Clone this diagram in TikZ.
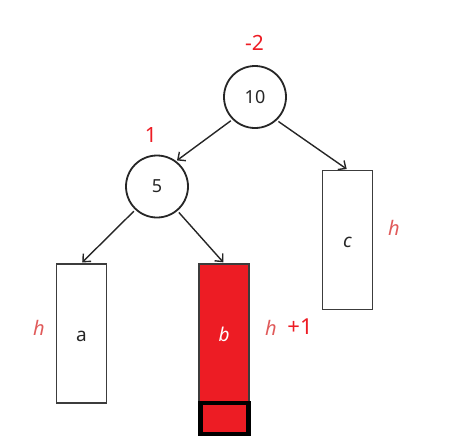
\documentclass[tikz,border=0pt]{standalone}
\usepackage{fontspec}
\setmainfont{Noto Sans}
\usetikzlibrary{arrows.meta}
\usetikzlibrary{positioning}
\definecolor{avink}{HTML}{262626}
\definecolor{avedge}{HTML}{3C3C3C}
\definecolor{avred}{HTML}{ED1C24}
\definecolor{avpink}{HTML}{E05A5A}
\tikzset{
  avkey/.style={
    circle, draw=avink, line width=1.8pt, minimum size=62pt, inner sep=0pt,
    font=\fontsize{18}{21}\selectfont, text=avink},
  avtree/.style={
    draw=avedge, line width=1.8pt, minimum width=50pt, minimum height=139pt,
    inner sep=0pt, text height=15pt, text depth=0pt,
    font=\fontsize{19}{22}\selectfont, text=avink},
  avgrow/.style={
    draw=black, line width=4.5pt, fill=avred, minimum width=48pt,
    minimum height=31pt, inner sep=0pt},
  avarrow/.style={-{Straight Barb[length=6pt, width=11pt]}, draw=avink,
    line width=1.4pt, shorten <=2pt, shorten >=1pt},
  avbal/.style={font=\fontsize{21}{24}\selectfont, text=avred, inner sep=0pt},
  avheight/.style={font=\itshape\fontsize{20}{23}\selectfont, text=avpink,
    inner sep=0pt},
}

\begin{document}
\begin{tikzpicture}[x=1pt, y=-1pt]
\useasboundingbox (0,0) rectangle (456,445);

% Keys.
\node[avkey] (k10) at (255,97) {10};
\node[avkey] (k5) at (157,186.5) {5};

% Subtrees.
\node[avtree] (ta) at (81.5,333.5) {a};
\node[avtree, fill=avred, text=white] (tb) at (224,333.5) {\textit{b}};
\node[avtree] (tc) at (347.5,240) {\textit{c}};
\node[avgrow] (tbx) at (224.5,418.5) {};

% Edges.
\draw[avarrow] (k10.225) -- (k5.53);
\draw[avarrow] (k10.313) -- (tc.north);
\draw[avarrow] (k5.227) -- (ta.north);
\draw[avarrow] (k5.310) -- (tb.north);

% Balance factors and heights.
\node[avbal] (bf10) at (254.5,42.5) {-2};
\node[avbal] (bf5) at (151,134.5) {1};
\node[avheight] (ha) at (39,328) {h};
\node[avheight] (hb) at (271,328) {h};
\node[avbal, font=\fontsize{22}{25}\selectfont] (hbplus) at (300,326.5) {+1};
\node[avheight] (hc) at (394,228) {h};

\end{tikzpicture}
\end{document}
